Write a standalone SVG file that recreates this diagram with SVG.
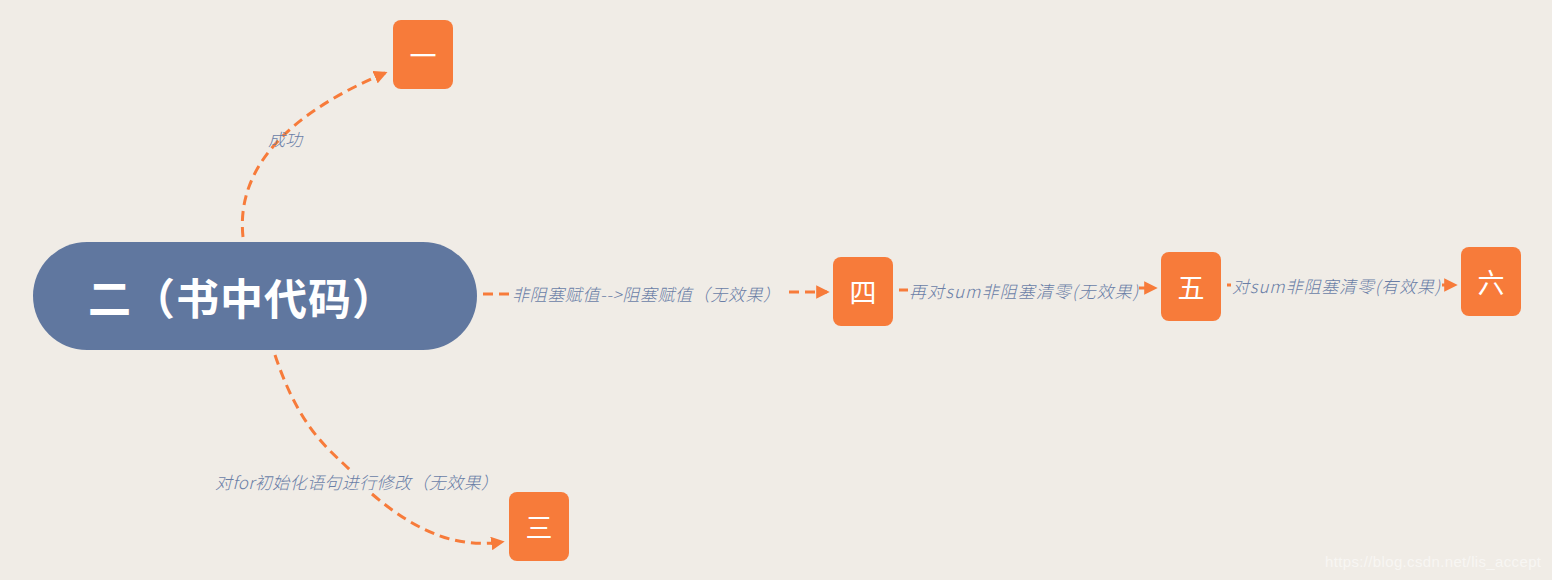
<svg xmlns="http://www.w3.org/2000/svg" width="1552" height="580" viewBox="0 0 1552 580">
<style>
.bg{fill:#F0ECE6}
.leaf rect{fill:#F77B3A}
.leaf text{fill:#FFFFFF;font-family:"Noto Sans CJK SC",sans-serif;font-size:27px;text-anchor:middle;dominant-baseline:central}
.root rect{fill:#60779F}
.root text{fill:#FFFFFF;font-family:"Noto Sans CJK SC",sans-serif;font-size:43px;font-weight:bold;dominant-baseline:central}
.edge{fill:none;stroke:#F77B3A;stroke-width:3;stroke-dasharray:10 6}
.lbl{fill:#6A7EA6;font-family:"Noto Sans CJK SC",sans-serif;font-size:17px;font-style:italic;font-weight:300;dominant-baseline:central}
.wm{fill:#FFFFFF;fill-opacity:0.55;font-family:"Liberation Sans",sans-serif;font-size:15px}
</style>
<defs>
<marker id="arr" viewBox="0 0 10 10" refX="8" refY="5" markerWidth="4.5" markerHeight="4.5" orient="auto" markerUnits="strokeWidth">
<path d="M0,0 L10,5 L0,10 Z" fill="#F77B3A"/>
</marker>
</defs>
<rect class="bg" x="0" y="0" width="1552" height="580"/>
<g id="connectors">
<path class="edge" d="M243,237 C236,170 285,115 385,73" marker-end="url(#arr)"/>
<text class="lbl" x="268" y="138">成功</text>
<path class="edge" d="M483,294 L510,294"/>
<path class="edge" d="M789,292 L827,292" marker-end="url(#arr)"/>
<text class="lbl" x="512" y="293" textLength="268">非阻塞赋值--&gt;阻塞赋值（无效果）</text>
<path class="edge" d="M899,290 L908,290"/>
<path class="edge" d="M1139,288 L1155,288" marker-end="url(#arr)"/>
<text class="lbl" x="909" y="290" textLength="229">再对sum非阻塞清零(无效果)</text>
<path class="edge" d="M1227,285 L1231,285"/>
<path class="edge" d="M1442,285 L1455,285" marker-end="url(#arr)"/>
<text class="lbl" x="1232" y="285" textLength="208">对sum非阻塞清零(有效果)</text>
<path class="edge" d="M275,355 C300,430 330,450 350,470"/>
<path class="edge" d="M372,494 C420,535 460,548 502,542" marker-end="url(#arr)"/>
<text class="lbl" x="215" y="481" textLength="283">对for初始化语句进行修改（无效果）</text>
</g>
<g id="node-root" class="root">
<rect x="33" y="242" width="444" height="108" rx="54" ry="54"/>
<text x="88" y="296" textLength="307">二（书中代码）</text>
</g>
<g id="node-1" class="leaf">
<rect x="393" y="20" width="60" height="69" rx="8"/>
<text x="423" y="54">一</text>
</g>
<g id="node-4" class="leaf">
<rect x="833" y="257" width="60" height="69" rx="8"/>
<text x="863" y="291">四</text>
</g>
<g id="node-5" class="leaf">
<rect x="1161" y="252" width="60" height="69" rx="8"/>
<text x="1191" y="286">五</text>
</g>
<g id="node-6" class="leaf">
<rect x="1461" y="247" width="60" height="69" rx="8"/>
<text x="1491" y="281">六</text>
</g>
<g id="node-3" class="leaf">
<rect x="509" y="492" width="60" height="69" rx="8"/>
<text x="539" y="526">三</text>
</g>
<text class="wm" x="1325" y="567" textLength="216">https://blog.csdn.net/lis_accept</text>
</svg>
